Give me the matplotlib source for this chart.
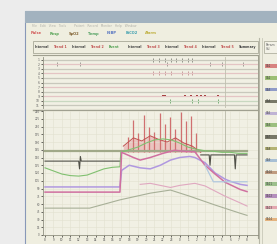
import matplotlib
matplotlib.use('Agg')
import numpy as np
from matplotlib import pyplot as plt
from matplotlib.patches import Rectangle

# ---- data ----
hours = [str(h % 24) for h in range(8, 33)]

olive_t = [-0.2, 24.0]
olive_v = [162, 162]

dark_t = [0, 4.0, 4.1, 4.2, 4.3, 8.9]
dark_v = [143, 143, 128, 152, 143, 143]
dark2_t = [18.5, 19.5, 19.6, 19.7, 22.5, 22.6, 22.7, 24.0]
dark2_v = [155, 155, 135, 155, 155, 128, 155, 155]

green_t = [0, 1, 2, 3, 4, 5, 6, 7, 8, 8.9, 9.0, 10, 11, 12, 13, 14, 15, 16, 17, 18, 19, 20, 21, 22, 23, 24]
green_v = [130, 124, 118, 115, 114, 116, 122, 128, 131, 132, 160, 165, 170, 178, 184, 186, 184, 178, 170, 166, 163, 162, 160, 160, 158, 158]

lav_t = [0, 8.9, 9.1, 10, 11.3, 12.5, 13.7, 14.9, 16, 17.2, 17.8, 19, 20.2, 21.4, 22, 23.2, 24]
lav_v = [93, 93, 125, 135, 130, 128, 135, 145, 150, 152, 150, 140, 120, 108, 104, 98, 96]

pink_t = [0, 8.9, 9.1, 10.5, 11.3, 12.5, 14, 15.4, 16.5, 17.8, 19, 20.2, 21.4, 23.2, 24]
pink_v = [83, 83, 160, 150, 145, 150, 158, 164, 162, 161, 135, 118, 102, 88, 84]

gray_t = [0, 5.3, 8.9, 12.5, 14.9, 17.2, 20.2, 23.2, 24]
gray_v = [52, 52, 68, 81, 87, 75, 58, 42, 38]

lpink_t = [11.3, 12.5, 14.9, 16.0, 17.8, 19.0, 20.2, 21.4, 23.2, 24]
lpink_v = [98, 100, 92, 96, 100, 95, 85, 75, 62, 56]

blue_t = [19.0, 20.0, 24.0]
blue_v = [135, 103, 103]

spike_t = [9.8, 10.4, 11.0, 11.7, 12.3, 12.9, 13.6, 14.2, 14.8, 15.4, 16.1, 16.7, 17.3, 17.9]
spike_top = [190, 222, 198, 232, 210, 200, 236, 214, 228, 205, 238, 220, 230, 198]
spike_low = 160

red_t = [9.3, 10.5, 11.5, 12.5, 13.5, 14.5, 15.5, 16.5, 17.5, 18.5]
red_v = [172, 188, 182, 192, 185, 180, 188, 178, 172, 160]

top_rows = list(range(11))
top_row_lbl = ['1', '2', '3', '4', '5', '6', '7', '8', '9', '10', '11']
ev0_t = [12.8, 13.5, 14.2, 15.0, 15.5, 16.3, 17.0, 17.5]
ev1_t = [1.4, 4.2, 14.5, 19.6, 21.0, 23.5]
ev3_t = [12.8, 13.5, 14.2, 15.0, 16.3, 17.0, 17.5]
ev8_t = [14.0, 14.3, 16.6, 17.3, 18.1, 18.5, 19.0, 20.5]
ev9_t = [14.8, 17.5, 18.2, 20.5]

menu_words = ['Pulse', 'Resp', 'SpO2', 'Temp', 'NIBP', 'EtCO2', 'Alarm']
menu_cols = ['#d05050', '#50a050', '#806030', '#50a060', '#5070c0', '#40a0b0', '#c0b040']
legend_cols = ['#d06060', '#80b050', '#7080c0', '#505040', '#b0a0d0', '#80b060', '#505040',
               '#a0a050', '#90b0d0', '#b08060', '#80b070', '#a070b0', '#e090a0', '#e0a060']

# ---- figure ----
fig = plt.figure(figsize=(2.77, 2.44), dpi=100, facecolor='#ececec')
bg = fig.add_axes([0, 0, 1, 1])
bg.set_xlim(0, 277)
bg.set_ylim(244, 0)
bg.axis('off')

# window, title bar, menu
bg.add_patch(Rectangle((25, 11), 253, 234, fc='#efeee0', ec='#8898b8', lw=0.8))
bg.add_patch(Rectangle((25, 11), 253, 12, fc='#a2b2bf', ec='none'))
bg.text(32, 26.5, 'File   Edit   View   Tools        Patient   Record   Monitor   Help   Window',
        fontsize=2.2, color='#b0b0a8', va='center')
x = 31
for w, c in zip(menu_words, menu_cols):
    bg.text(x, 33.5, w, fontsize=2.6, color=c, va='center', fontweight='bold')
    x += 19
# header bar
bg.add_patch(Rectangle((33, 41), 225, 12, fc='#efeee0', ec='#a8a898', lw=0.6))
hdr = ['Interval', 'Trend 1', 'Interval', 'Trend 2', 'Event', 'Interval', 'Trend 3', 'Interval',
       'Trend 4', 'Interval', 'Trend 5', 'Summary']
hdr_c = ['#404040', '#c05050', '#404040', '#c05050', '#50a050', '#404040', '#c05050', '#404040',
         '#c05050', '#404040', '#c05050', '#404040']
x = 35
for w, c in zip(hdr, hdr_c):
    bg.text(x, 47, w, fontsize=2.3, color=c, va='center', fontweight='bold')
    x += 18.5
bg.plot([33, 258], [55, 55], color='#a0a090', lw=0.8)
# right panel
bg.plot([259, 259], [38, 244], color='#b8b8a8', lw=0.8)
bg.plot([261.5, 261.5], [38, 244], color='#c8c8b8', lw=0.6)
bg.add_patch(Rectangle((264, 41), 16, 12, fc='#f2f1e6', ec='#b0b0a0', lw=0.6))
bg.text(266, 45, 'Param', fontsize=2.2, color='#606060', va='center')
bg.text(266, 49.5, 'Val', fontsize=2.2, color='#606060', va='center')
for i, c in enumerate(legend_cols):
    yy = 66 + 11.8 * i
    bg.add_patch(Rectangle((265, yy - 1.6), 14, 3.4, fc=c, ec='none', alpha=0.75))
    bg.text(266, yy, 'Ch%d' % (i + 1), fontsize=2.0, color='#404040', va='center')
# frame of charts
bg.plot([258, 258], [55, 238], color='#a0a090', lw=0.8)
bg.plot([33, 258], [109.5, 109.5], color='#a0a090', lw=1.0)

# ---- top chart ----
ax1 = fig.add_axes([43 / 277, 1 - 108 / 244, 215 / 277, 51 / 244])
ax1.set_facecolor('#f1f0e4')
ax1.set_xlim(-0.24, 25.3)
ax1.set_ylim(10.6, -0.6)
row_c = ['#c8c8bc', '#e4c4c4', '#c8c8bc', '#e4c4c4', '#c8c8bc', '#c8c8bc', '#e4c4c4', '#c8c8bc',
         '#e4c4c4', '#c8d8c0', '#c8c8bc']
for r, c in zip(top_rows, row_c):
    ax1.axhline(r, color=c, lw=0.9)
ax1.axvline(21.4, color='#c0c0b0', lw=0.6)
ax1.scatter(ev0_t, [0] * len(ev0_t), marker='|', s=6, color='#808078', lw=0.6)
ax1.scatter(ev1_t, [1] * len(ev1_t), marker='|', s=6, color='#909088', lw=0.6)
ax1.scatter(ev3_t, [3] * len(ev3_t), marker='|', s=6, color='#c09090', lw=0.6)
ax1.scatter(ev8_t, [8] * len(ev8_t), marker='s', s=4, color='#a03030', lw=0)
ax1.scatter(ev9_t, [9] * len(ev9_t), marker='|', s=5, color='#60a060', lw=0.6)
ax1.set_yticks(top_rows)
ax1.set_yticklabels(top_row_lbl, fontsize=2.2, color='#606060')
ax1.set_xticks([])
ax1.tick_params(axis='y', length=1.5, width=0.4, pad=1)
for s in ['top', 'right', 'bottom']:
    ax1.spines[s].set_visible(False)
ax1.spines['left'].set_color('#909080')
ax1.spines['left'].set_linewidth(0.6)

# ---- bottom chart ----
ax2 = fig.add_axes([43 / 277, 1 - 235 / 244, 215 / 277, 124 / 244])
ax2.set_facecolor('#f1f0e4')
ax2.set_xlim(-0.24, 25.3)
ax2.set_ylim(0, 240)
ax2.grid(True, color='#e2e0d0', lw=0.4)
ax2.axvline(21.4, color='#b8b8a8', lw=0.6)
ax2.fill_between(red_t, 160, red_v, color='#e8a8a8', alpha=0.6, lw=0)
ax2.vlines(spike_t, spike_low, spike_top, color='#d07070', lw=0.9)
ax2.plot(red_t, red_v, color='#c05050', lw=0.7)
ax2.plot(olive_t, olive_v, color='#a0a888', lw=1.6)
ax2.plot(dark_t, dark_v, color='#505048', lw=0.8)
ax2.plot(dark2_t, dark2_v, color='#505048', lw=0.8)
ax2.plot(green_t, green_v, color='#80c070', lw=0.8)
ax2.plot(lav_t, lav_v, color='#b098e0', lw=1.1)
ax2.plot(pink_t, pink_v, color='#d070a0', lw=1.1)
ax2.plot(gray_t, gray_v, color='#a8b098', lw=0.8)
ax2.plot(lpink_t, lpink_v, color='#e0a8c0', lw=0.8)
ax2.plot(blue_t, blue_v, color='#b0c8e0', lw=0.9)
ax2.set_yticks(np.arange(0, 241, 15))
ax2.set_yticklabels([str(v) for v in range(0, 241, 15)], fontsize=2.0, color='#606060')
ax2.set_xticks(range(25))
ax2.set_xticklabels(hours, fontsize=2.0, color='#505050')
ax2.tick_params(length=1.5, width=0.4, pad=0.8)
for s in ['top', 'right']:
    ax2.spines[s].set_visible(False)
for s in ['left', 'bottom']:
    ax2.spines[s].set_color('#909080')
    ax2.spines[s].set_linewidth(0.6)

fig.savefig('out.png', dpi=100, facecolor=fig.get_facecolor())
